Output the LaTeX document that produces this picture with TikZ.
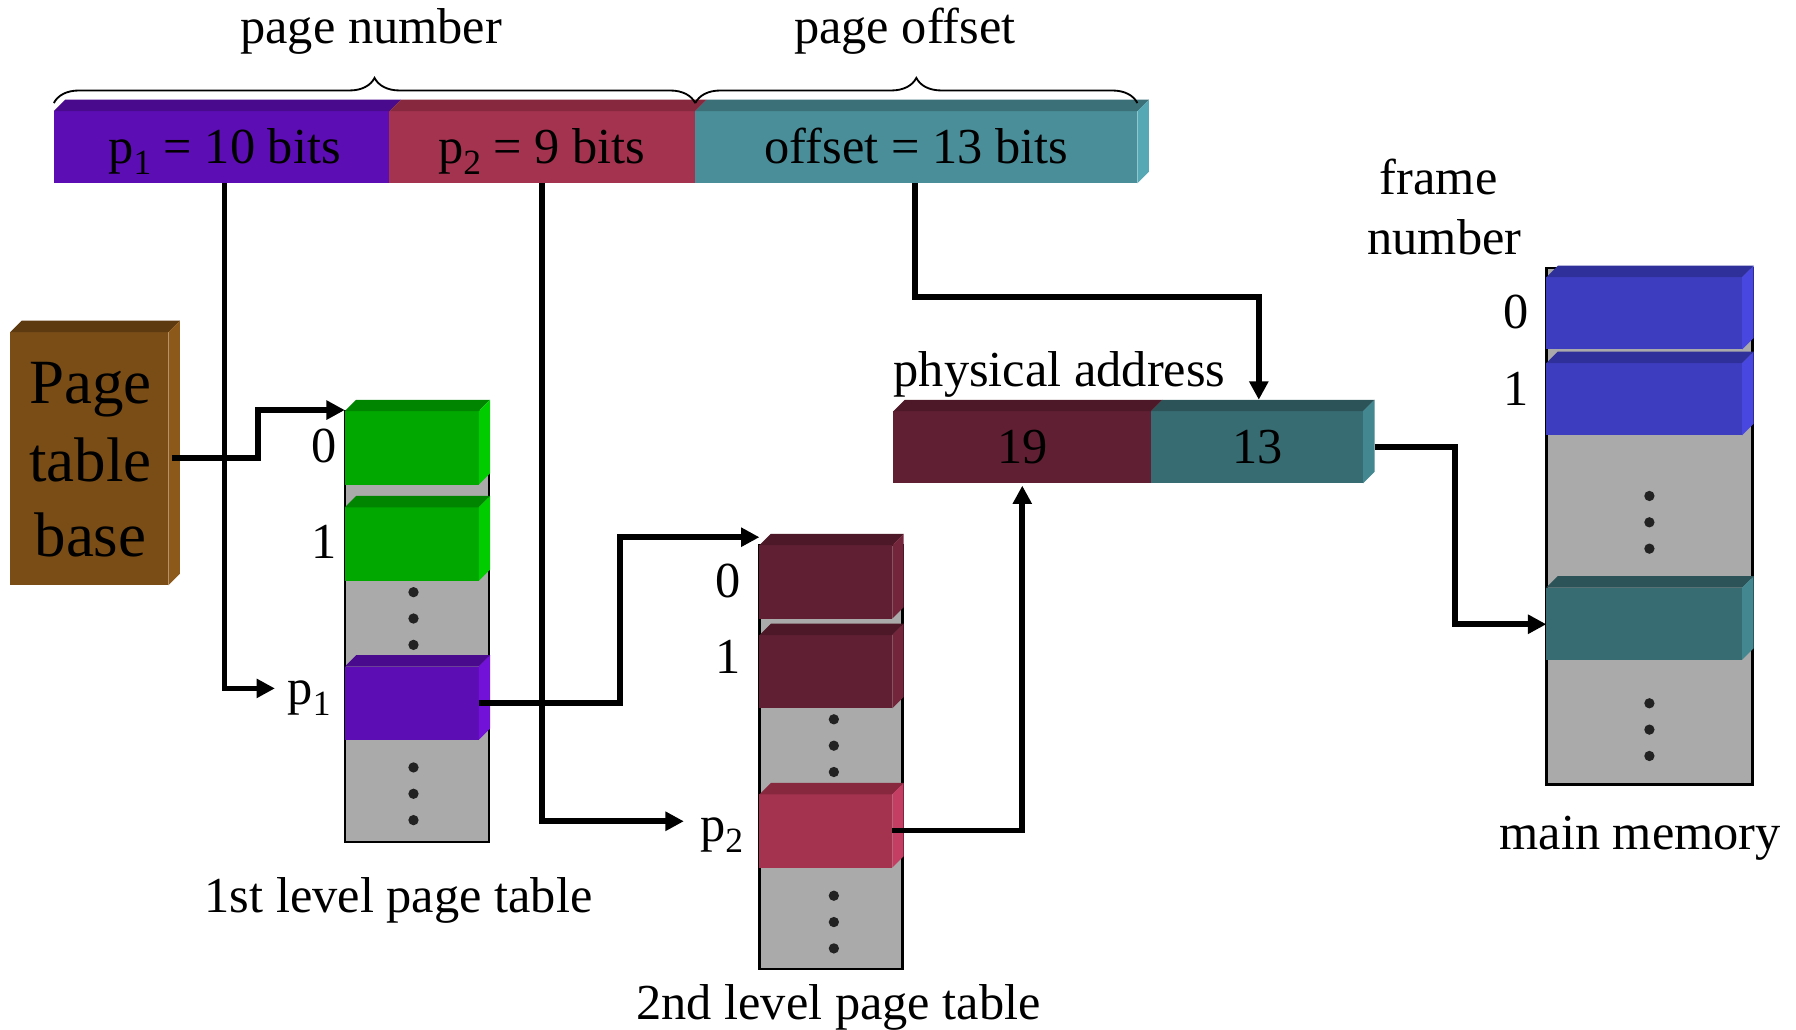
\documentclass[tikz,border=0pt]{standalone}
\usepackage{fontspec}
\setmainfont{Liberation Serif}
\usetikzlibrary{arrows.meta,decorations.pathreplacing,calc}

% face colours of the bevelled blocks (front / top / side)
\definecolor{pfront}{HTML}{5C0DB4}\definecolor{ptop}{HTML}{4A0A8E}\definecolor{pside}{HTML}{7212D8}
\definecolor{rfront}{HTML}{A3334F}\definecolor{rtop}{HTML}{87283F}\definecolor{rside}{HTML}{C43D62}
\definecolor{tfront}{HTML}{4A8E99}\definecolor{ttop}{HTML}{3B7078}\definecolor{tside}{HTML}{56A8B4}
\definecolor{bfront}{HTML}{7A4D17}\definecolor{btop}{HTML}{5E3A11}\definecolor{bside}{HTML}{8C591B}
\definecolor{gfront}{HTML}{00A800}\definecolor{gtop}{HTML}{008500}\definecolor{gside}{HTML}{00CC00}
\definecolor{mfront}{HTML}{611F33}\definecolor{mtop}{HTML}{4D1827}\definecolor{mside}{HTML}{73253C}
\definecolor{ufront}{HTML}{3D3DC0}\definecolor{utop}{HTML}{30309B}\definecolor{uside}{HTML}{4848E0}
\definecolor{dfront}{HTML}{376C73}\definecolor{dtop}{HTML}{2B5358}\definecolor{dside}{HTML}{438790}
\definecolor{colgray}{HTML}{AAAAAA}
\definecolor{dotc}{HTML}{222222}

\newcommand{\subidx}[1]{\raisebox{-0.22em}{\fontsize{31}{31}\selectfont #1}}

% front, top and side faces of a bevelled block filling node #1
\newcommand{\bevelfaces}[4]{%
  \fill[#2] ([yshift=-10pt]#1.north west) rectangle ([xshift=-10pt]#1.south east);
  \fill[#3] ([yshift=-10pt]#1.north west) -- ([xshift=10pt]#1.north west) -- (#1.north east)
            -- ([xshift=-10pt,yshift=-10pt]#1.north east) -- cycle;
  \fill[#4] ([xshift=-10pt,yshift=-10pt]#1.north east) -- (#1.north east)
            -- ([yshift=10pt]#1.south east) -- ([xshift=-10pt]#1.south east) -- cycle;
}
% top strip above a flat front face (node #1)
\newcommand{\topstrip}[2]{%
  \fill[#2] (#1.north west) -- ([xshift=10pt,yshift=10pt]#1.north west)
            -- ([xshift=10pt,yshift=10pt]#1.north east) -- (#1.north east) -- cycle;
}
\newcommand{\sidestrip}[2]{%
  \fill[#2] (#1.north east) -- ([xshift=10pt,yshift=10pt]#1.north east)
            -- ([xshift=10pt,yshift=10pt]#1.south east) -- (#1.south east) -- cycle;
}

\begin{document}
\begin{tikzpicture}[x=1pt,y=-1pt,
  txt/.style={font=\fontsize{44}{50}\selectfont, inner sep=0pt, anchor=base},
  bigtxt/.style={font=\fontsize{55}{60}\selectfont, inner sep=0pt, anchor=base},
  slot/.style={inner sep=0pt, outer sep=0pt},
  col/.style={draw=black, line width=2.2pt, fill=colgray, inner sep=0pt},
  conn/.style={draw=black, line width=5pt, -{Triangle[length=16pt,width=16pt]}},
  curly/.style={decorate, decoration={brace, amplitude=22pt}, line width=1.6pt}]

\fill[white] (0,0) rectangle (1568,899);
\useasboundingbox (0,0) rectangle (1568,899);

% ---------- logical address bar ----------
\node[slot, minimum width=293pt, minimum height=63pt] (p1f) at (193.5,128.5) {};
\node[slot, minimum width=267pt, minimum height=63pt] (p2f) at (473.5,128.5) {};
\node[slot, minimum width=386pt, minimum height=63pt] (offf) at (800,128.5) {};
\fill[pfront] (p1f.north west) rectangle (p1f.south east);
\fill[rfront] (p2f.north west) rectangle (p2f.south east);
\fill[tfront] (offf.north west) rectangle (offf.south east);
\topstrip{p1f}{ptop}
\topstrip{p2f}{rtop}
\topstrip{offf}{ttop}
\sidestrip{offf}{tside}
\node[txt] (tp1) at (196,143) {p\subidx{1} = 10 bits};
\node[txt] (tp2) at (473,143) {p\subidx{2} = 9 bits};
\node[txt] (toff) at (800,143) {offset = 13 bits};

% braces and their captions
\draw[curly] ([yshift=7pt]p1f.north west) -- ([yshift=7pt]p2f.north east);
\draw[curly] ([yshift=7pt]offf.north west) -- ([yshift=7pt]offf.north east);
\node[txt] (lpn) at (324,38) {page number};
\node[txt] (lpo) at (790,38) {page offset};

% ---------- page table base register ----------
\node[slot, minimum width=148pt, minimum height=231pt] (ptb) at (83,395.5) {};
\bevelfaces{ptb}{bfront}{btop}{bside}
\node[bigtxt] (ptb1) at (79,352) {Page};
\node[bigtxt] (ptb2) at (79,420) {table};
\node[bigtxt] (ptb3) at (79,486) {base};

% ---------- 1st level page table ----------
\node[col, minimum width=126pt, minimum height=376pt] (t1) at (364,547) {};
\node[slot, minimum width=127pt, minimum height=74pt] (e10) at (364.5,386) {};
\node[slot, minimum width=127pt, minimum height=74pt] (e11) at (364.5,470) {};
\node[slot, minimum width=127pt, minimum height=74pt] (e1p) at (364.5,609) {};
\bevelfaces{e10}{gfront}{gtop}{gside}
\bevelfaces{e11}{gfront}{gtop}{gside}
\bevelfaces{e1p}{pfront}{ptop}{pside}
\foreach \y in {517,540,563,670,693,716} \fill[dotc] (361,\y) circle (4.5pt);
\node[txt] (l10) at (283,404) {0};
\node[txt] (l11) at (283,488) {1};
\node[txt] (l1p) at (270,615) {p\subidx{1}};
\node[txt] (cap1) at (348,797) {1st level page table};

% ---------- 2nd level page table ----------
\node[col, minimum width=125pt, minimum height=370pt] (t2) at (725.5,661) {};
\node[slot, minimum width=126pt, minimum height=74pt] (e20) at (726,503) {};
\node[slot, minimum width=126pt, minimum height=74pt] (e21) at (726,581.5) {};
\node[slot, minimum width=126pt, minimum height=74pt] (e2p) at (726,720.5) {};
\bevelfaces{e20}{mfront}{mtop}{mside}
\bevelfaces{e21}{mfront}{mtop}{mside}
\bevelfaces{e2p}{rfront}{rtop}{rside}
\foreach \y in {628,651,674,782,805,828} \fill[dotc] (728,\y) circle (4.5pt);
\node[txt] (l20) at (636,522) {0};
\node[txt] (l21) at (636,588) {1};
\node[txt] (l2p) at (630,735) {p\subidx{2}};
\node[txt] (cap2) at (732,890) {2nd level page table};

% ---------- physical address ----------
\node[slot, minimum width=225pt, minimum height=63pt] (pa19) at (892.5,390.5) {};
\node[slot, minimum width=185pt, minimum height=63pt] (pa13) at (1097.5,390.5) {};
\fill[mfront] (pa19.north west) rectangle (pa19.south east);
\fill[dfront] (pa13.north west) rectangle (pa13.south east);
\topstrip{pa19}{mtop}
\topstrip{pa13}{dtop}
\sidestrip{pa13}{dside}
\node[txt] (t19) at (893,405) {19};
\node[txt] (t13) at (1098,405) {13};
\node[txt] (lpa) at (925,337) {physical address};

% ---------- main memory ----------
\node[col, minimum width=180pt, minimum height=451pt] (mem) at (1440,459.5) {};
\node[slot, minimum width=181pt, minimum height=73pt] (mf0) at (1440.5,268.5) {};
\node[slot, minimum width=181pt, minimum height=73pt] (mf1) at (1440.5,343.5) {};
\node[slot, minimum width=181pt, minimum height=73pt] (mfr) at (1440.5,539.5) {};
\bevelfaces{mf0}{ufront}{utop}{uside}
\bevelfaces{mf1}{ufront}{utop}{uside}
\bevelfaces{mfr}{dfront}{dtop}{dside}
\foreach \y in {433,456,479,614,637,660} \fill[dotc] (1440,\y) circle (4.5pt);
\node[txt] (lm0) at (1324,287) {0};
\node[txt] (lm1) at (1324,354) {1};
\node[txt] (lfn1) at (1256,170) {frame};
\node[txt] (lfn2) at (1261,222) {number};
\node[txt] (capm) at (1432,742) {main memory};

% ---------- connectors ----------
\coordinate (p1tip) at (240,601);
\coordinate (p2tip) at (597,717);
\draw[conn] ([xshift=-7pt,yshift=-4.5pt]ptb.east) -- ++(75,0) |- ([yshift=-9pt]e10.north west);
\draw[conn] ([xshift=2.5pt]p1f.south) |- (p1tip);
\draw[conn] ([xshift=-10pt,yshift=-5pt]e1p.east) -- ++(123,0) |- ([yshift=-3pt]e20.north west);
\draw[conn] (p2f.south) |- (p2tip);
\draw[conn] ([xshift=-10pt,yshift=-4.5pt]e2p.east) -| ([yshift=-2pt]pa19.south);
\draw[conn] ([xshift=-1pt]offf.south) -- ++(0,99) -| ([xshift=1.5pt,yshift=10pt]pa13.north);
\draw[conn] ([xshift=10pt]pa13.east) -- ++(70,0) |- ([yshift=-5.5pt]mfr.west);

\end{tikzpicture}
\end{document}
